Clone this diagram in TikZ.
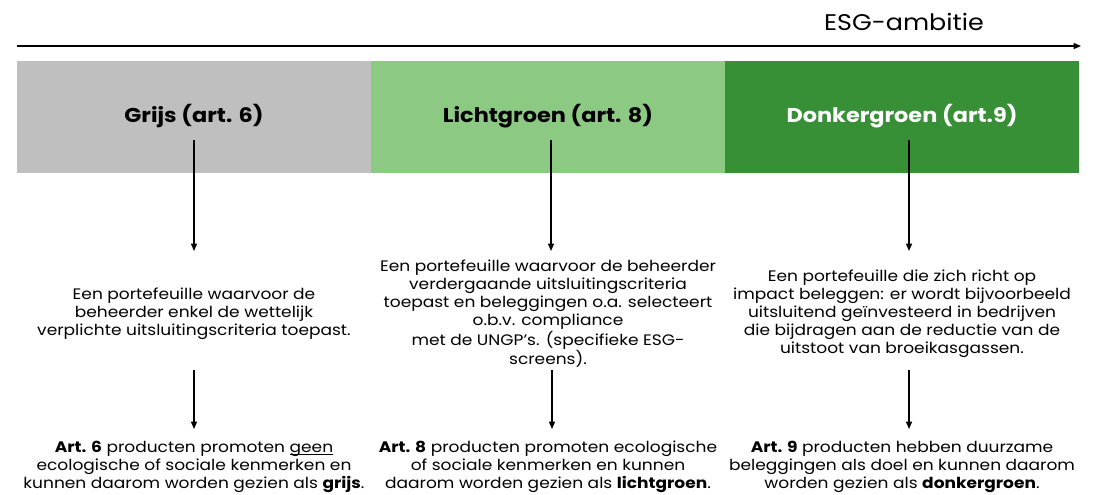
\documentclass[tikz,border=0pt]{standalone}
\usepackage{fontspec}
\setmainfont{Poppins}[FakeStretch=1.12]
\usetikzlibrary{arrows.meta}
\definecolor{grijs}{HTML}{BFBFBF}
\definecolor{lichtgroen}{HTML}{8CCA84}
\definecolor{donkergroen}{HTML}{379036}
\newcommand{\onderstreept}[1]{\setbox0\hbox{#1}\rlap{\rule[-1.7pt]{\wd0}{0.6pt}}\box0}
\tikzset{
  pijl/.style={line width=0.9pt,-{Triangle[length=5.5pt,width=4.5pt]}},
  kop/.style={font=\fontsize{15}{17}\selectfont\bfseries},
  uitleg/.style={align=center,font=\fontsize{11.4}{13.5}\selectfont,inner sep=0pt},
}
\begin{document}
\begin{tikzpicture}[x=0.75pt,y=-0.75pt]
\useasboundingbox (0,0) rectangle (1094,494);
%
\node (ambitie) at (904,22) {\fontsize{17}{20}\selectfont ESG-ambitie};
\coordinate (as) at (17,46);
\coordinate (ae) at (1081,46);
\draw[pijl] (as) -- (ae);
%
\fill[grijs] (17,61) rectangle (371,173);
\fill[lichtgroen] (371,61) rectangle (725,173);
\fill[donkergroen] (725,61) rectangle (1079,173);
%
\node[kop] (k1) at (194,116) {Grijs (art. 6)};
\node[kop] (k2) at (548,116) {Lichtgroen (art. 8)};
\node[kop,white] (k3) at (902,116) {Donkergroen (art.9)};
%
\node[uitleg] (d1) at (194,314) {Een portefeuille waarvoor de\\
  beheerder enkel de wettelijk\\ verplichte uitsluitingscriteria toepast.};
\node[uitleg] (d2) at (548,314) {Een portefeuille waarvoor de beheerder\\
  verdergaande uitsluitingscriteria\\ toepast en beleggingen o.a. selecteert\\
  o.b.v. compliance\\ met de UNGP’s. (specifieke ESG-\\ screens).};
\node[uitleg] (d3) at (902,314) {Een portefeuille die zich richt op\\
  impact beleggen: er wordt bijvoorbeeld\\ uitsluitend geïnvesteerd in bedrijven\\
  die bijdragen aan de reductie van de\\ uitstoot van broeikasgassen.};
%
\node[uitleg] (p1) at (194,467) {\textbf{Art. 6} producten promoten \onderstreept{geen}\\
  ecologische of sociale kenmerken en\\ kunnen daarom worden gezien als \textbf{grijs}.};
\node[uitleg] (p2) at (548,467) {\textbf{Art. 8} producten promoten ecologische\\
  of sociale kenmerken en kunnen\\ daarom worden gezien als \textbf{lichtgroen}.};
\node[uitleg] (p3) at (902,467) {\textbf{Art. 9} producten hebben duurzame\\
  beleggingen als doel en kunnen daarom\\ worden gezien als \textbf{donkergroen}.};
%
\coordinate (s1) at (194,140); \coordinate (t1) at (194,251);
\coordinate (s2) at (551,140); \coordinate (t2) at (551,251);
\coordinate (s3) at (909,140); \coordinate (t3) at (909,251);
\draw[pijl] (s1) -- (t1);
\draw[pijl] (s2) -- (t2);
\draw[pijl] (s3) -- (t3);
%
\coordinate (u1) at (194,370); \coordinate (v1) at (194,429);
\coordinate (u2) at (552,370); \coordinate (v2) at (552,429);
\coordinate (u3) at (909,370); \coordinate (v3) at (909,429);
\draw[pijl] (u1) -- (v1);
\draw[pijl] (u2) -- (v2);
\draw[pijl] (u3) -- (v3);
\end{tikzpicture}
\end{document}
